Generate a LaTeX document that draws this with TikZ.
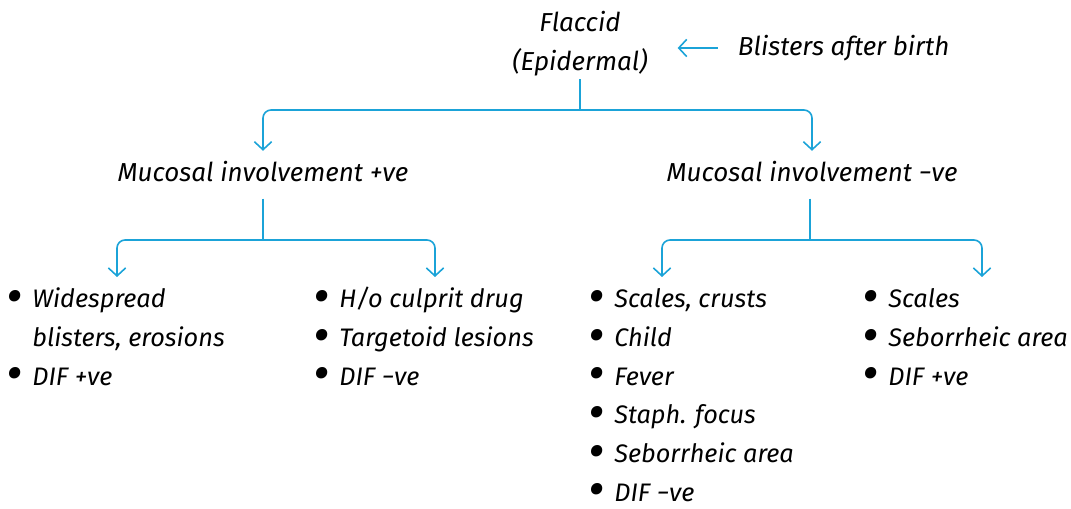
\documentclass[tikz,border=0pt]{standalone}
\usepackage{fontspec}
\setmainfont{Fira Sans}
\usetikzlibrary{arrows.meta}
\definecolor{linkblue}{RGB}{27,163,216}
\newcommand{\bul}{\raisebox{-0.4ex}{\scalebox{2}{\textbullet}}}
\begin{document}
\begin{tikzpicture}[x=0.75pt, y=-0.75pt,
           every node/.style = {font=\fontsize{19.5}{29.25}\selectfont\itshape,
             inner sep=2pt},
           blist/.style = {anchor=base west, font=\fontsize{19}{29}\selectfont\itshape},
           link/.style = {draw=linkblue, line width=1.2pt, rounded corners=6pt},
           arr/.style = {link, -{Straight Barb[length=6pt, width=13pt]}}]
  \useasboundingbox (0,0) rectangle (1071,509);
  \node[align=center] (flaccid) at (580,44) {Flaccid\\(Epidermal)};
  \node[anchor=west] (birth) at (735,48) {Blisters after birth};
  \node (mpos) at (263,172) {Mucosal involvement +ve};
  \node (mneg) at (812,172) {Mucosal involvement −ve};
  % lists
  \node[blist] (lpos1) at (4,308) {\begin{tabular}[t]{@{}l@{\hspace{7pt}}l@{}}
      \bul & Widespread\\ & blisters, erosions\\ \bul & DIF +ve\end{tabular}};
  \node[blist] (lpos2) at (311,308) {\begin{tabular}[t]{@{}l@{\hspace{7pt}}l@{}}
      \bul & H/o culprit drug\\ \bul & Targetoid lesions\\ \bul & DIF −ve\end{tabular}};
  \node[blist] (lneg1) at (586,308) {\begin{tabular}[t]{@{}l@{\hspace{7pt}}l@{}}
      \bul & Scales, crusts\\ \bul & Child\\ \bul & Fever\\ \bul & Staph. focus\\
      \bul & Seborrheic area\\ \bul & DIF −ve\end{tabular}};
  \node[blist] (lneg2) at (860,308) {\begin{tabular}[t]{@{}l@{\hspace{7pt}}l@{}}
      \bul & Scales\\ \bul & Seborrheic area\\ \bul & DIF +ve\end{tabular}};
  % forks and arrow tips
  \coordinate (f0) at (580,110);
  \coordinate (f1) at (263,240);
  \coordinate (f2) at (810,240);
  \coordinate (t1) at (117,277);
  \coordinate (t2) at (435,277);
  \coordinate (t3) at (662,277);
  \coordinate (t4) at (982,277);
  \draw[arr] ([xshift=-13pt]birth.west) -- ([xshift=-43pt]birth.west);
  \draw[link] (flaccid.south) -- (f0);
  \draw[arr] (f0) -| ([yshift=6pt]mpos.north);
  \draw[arr] (f0) -| ([yshift=6pt]mpos.north -| mneg.north);
  \draw[link] ([yshift=-10pt]mpos.south) -- (f1);
  \draw[arr] (f1) -| (t1);
  \draw[arr] (f1) -| (t2);
  \draw[link] ([yshift=-10pt]mneg.south -| f2) -- (f2);
  \draw[arr] (f2) -| (t3);
  \draw[arr] (f2) -| (t4);
\end{tikzpicture}
\end{document}
